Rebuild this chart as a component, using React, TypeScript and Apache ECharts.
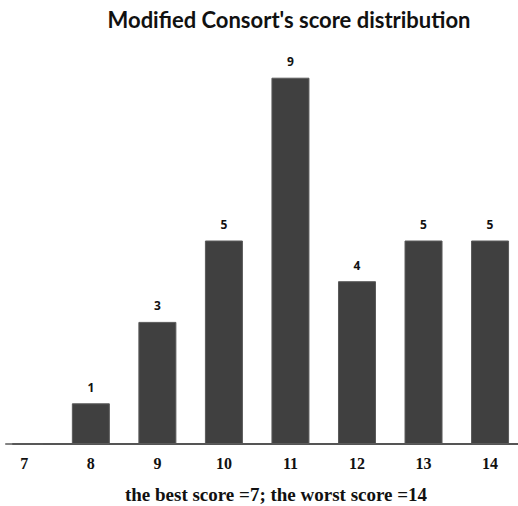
import React, { useEffect, useRef } from "react";
import * as echarts from "echarts";

const scores = [7, 8, 9, 10, 11, 12, 13, 14];
const counts = [0, 1, 3, 5, 9, 4, 5, 5];
const titleText = "Modified Consort's score distribution";
const footText = "the best score =7; the worst score =14";

export default function App() {
  const ref = useRef<HTMLDivElement>(null);
  useEffect(() => {
    const chart = echarts.init(ref.current!, null, { renderer: "svg" });
    chart.setOption({
      animation: false,
      backgroundColor: "#ffffff",
      grid: { left: 13, right: 0, top: 37, bottom: 62 },
      xAxis: {
        type: "value",
        min: 6.83,
        max: 14.42,
        splitLine: { show: false },
        axisTick: { show: false },
        axisLine: { show: true, lineStyle: { color: "#555", width: 2 } },
        axisLabel: {
          customValues: scores,
          margin: 11,
          fontFamily: "Liberation Serif",
          fontWeight: "bold",
          fontSize: 16,
          color: "#111",
        },
      },
      yAxis: {
        type: "value",
        min: 0,
        max: 10,
        show: false,
      },
      series: [
        {
          type: "bar",
          barWidth: 38,
          data: scores.map((s, i) => [s, counts[i]]),
          itemStyle: { color: "#404040", borderColor: "#5a5a5a", borderWidth: 1 },
          label: {
            show: true,
            position: "top",
            distance: 10,
            fontFamily: "Open Sans",
            fontWeight: "bold",
            fontSize: 12,
            color: "#111",
            formatter: (p: any) => (p.value[1] === 0 ? "" : String(p.value[1])),
          },
        },
      ],
      graphic: [
        {
          type: "text",
          x: 289,
          y: 19,
          style: {
            text: titleText,
            x: 0,
            y: 0,
            align: "center",
            verticalAlign: "middle",
            fontFamily: "Lato",
            fontWeight: "bold",
            fontSize: 22,
            fill: "#111",
          },
        },
        {
          type: "text",
          x: 276,
          y: 494,
          style: {
            text: footText,
            x: 0,
            y: 0,
            align: "center",
            verticalAlign: "middle",
            fontFamily: "Liberation Serif",
            fontWeight: "bold",
            fontSize: 19,
            fill: "#111",
          },
        },
      ],
    });
    return () => chart.dispose();
  }, []);
  return (
    <div
      ref={ref}
      style={{ position: "absolute", left: 0, top: 0, width: 518, height: 506 }}
    />
  );
}
